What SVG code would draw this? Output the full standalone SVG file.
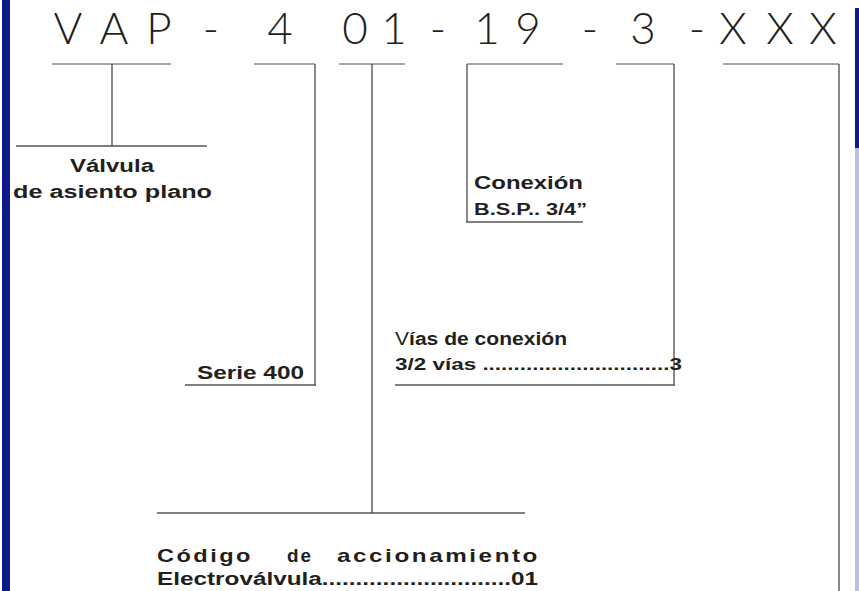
<svg xmlns="http://www.w3.org/2000/svg" width="859" height="591" viewBox="0 0 859 591">
<style>
.code{font-family:Lato,"DejaVu Sans",sans-serif;font-weight:300;font-size:44px;fill:#231f20;text-anchor:middle}
.lbl{font-family:"Liberation Sans",Arial,sans-serif;font-weight:bold;fill:#231f20}
.top{stroke:#8a8a8a;stroke-width:1.6;fill:none}
.ln{stroke:#3a3a3a;stroke-width:1.2;fill:none}
.bot{stroke:#555;stroke-width:1.4;fill:none}
</style>
<rect width="859" height="591" fill="#ffffff"/>
<rect x="2" y="0" width="8" height="591" fill="#0c1a8c"/>
<rect x="855" y="8" width="4" height="140" fill="#0c1a8c"/>
<rect x="855" y="148" width="4" height="443" fill="#b9bee3"/>
<g id="code">
<text class="code" y="44"><tspan x="68">V</tspan><tspan x="114">A</tspan><tspan x="159">P</tspan><tspan x="211">-</tspan><tspan x="280">4</tspan><tspan x="355">0</tspan><tspan x="394">1</tspan><tspan x="438">-</tspan><tspan x="487">1</tspan><tspan x="528">9</tspan><tspan x="590">-</tspan><tspan x="643">3</tspan><tspan x="697">-</tspan><tspan x="733">X</tspan><tspan x="780">X</tspan><tspan x="823">X</tspan></text>
</g>
<g id="connectors">
<line class="top" x1="52" y1="64" x2="171" y2="64"/>
<line class="ln" x1="112" y1="64" x2="112" y2="146"/>
<line class="bot" x1="16" y1="146" x2="207" y2="146"/>
<line class="top" x1="254" y1="64" x2="315" y2="64"/>
<line class="ln" x1="315" y1="64" x2="315" y2="385"/>
<line class="bot" x1="185" y1="385" x2="316" y2="385"/>
<line class="top" x1="339" y1="64" x2="405" y2="64"/>
<line class="ln" x1="372" y1="64" x2="372" y2="513"/>
<line class="bot" x1="157" y1="513" x2="525" y2="513"/>
<line class="top" x1="467" y1="64" x2="563" y2="64"/>
<line class="ln" x1="467" y1="64" x2="467" y2="222"/>
<line class="bot" x1="466" y1="222" x2="583" y2="222"/>
<line class="top" x1="616" y1="64" x2="674" y2="64"/>
<line class="ln" x1="674" y1="64" x2="674" y2="385"/>
<line class="bot" x1="395" y1="385" x2="675" y2="385"/>
<line class="top" x1="723" y1="64" x2="839" y2="64"/>
<line class="ln" x1="839" y1="64" x2="839" y2="591"/>
</g>
<g id="valvula">
<text class="lbl" x="70" y="172" font-size="18" textLength="84" lengthAdjust="spacingAndGlyphs">Válvula</text>
<text class="lbl" x="13" y="198" font-size="18" textLength="199" lengthAdjust="spacingAndGlyphs">de asiento plano</text>
</g>
<g id="conexion">
<text class="lbl" x="474" y="189" font-size="18" textLength="109" lengthAdjust="spacingAndGlyphs">Conexión</text>
<text class="lbl" x="474" y="215" font-size="16" textLength="113" lengthAdjust="spacingAndGlyphs">B.S.P.. 3/4”</text>
</g>
<g id="serie">
<text class="lbl" x="197" y="379" font-size="19" textLength="107" lengthAdjust="spacingAndGlyphs">Serie 400</text>
</g>
<g id="vias">
<text class="lbl" x="395" y="345" font-size="18" textLength="172" lengthAdjust="spacingAndGlyphs"><tspan font-weight="normal">V</tspan>ías de conexión</text>
<text class="lbl" x="395" y="370" font-size="17" textLength="287" lengthAdjust="spacingAndGlyphs">3/2 vías ..............................3</text>
</g>
<g id="codigo">
<text class="lbl" x="157" y="562" font-size="19" letter-spacing="2" textLength="96" lengthAdjust="spacingAndGlyphs">Código</text>
<text class="lbl" x="287" y="562" font-size="19" letter-spacing="2" textLength="26" lengthAdjust="spacingAndGlyphs">de</text>
<text class="lbl" x="337" y="562" font-size="19" letter-spacing="2" textLength="203" lengthAdjust="spacingAndGlyphs">accionamiento</text>
<text class="lbl" x="157" y="585" font-size="18" textLength="381" lengthAdjust="spacingAndGlyphs">Electroválvula............................01</text>
</g>
</svg>
